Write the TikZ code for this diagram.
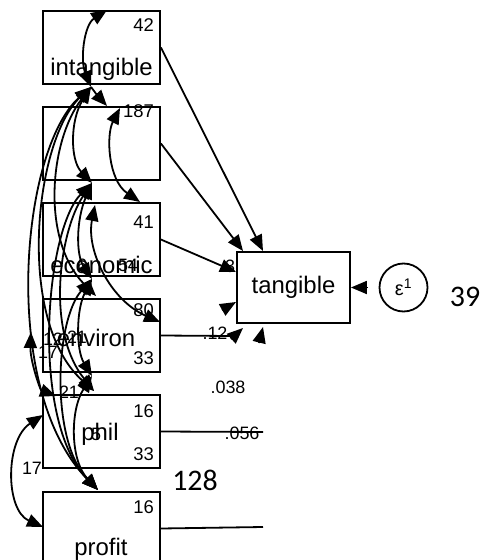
\documentclass[tikz,border=0pt]{standalone}
\usepackage{fontspec}
\setmainfont{Liberation Sans}
\newfontfamily\numfont{Carlito}
\usetikzlibrary{arrows.meta}

\begin{document}
\begin{tikzpicture}[x=1bp,y=-1bp,
    var/.style={draw,line width=1.8bp,minimum width=117bp,minimum height=73bp,inner sep=0pt},
    lab/.style={anchor=base,inner sep=0pt,font=\fontsize{24}{28}\selectfont},
    num/.style={anchor=base east,inner sep=0pt,font=\fontsize{18.5}{22}\selectfont},
    est/.style={anchor=base,inner sep=0pt,font=\fontsize{18}{22}\selectfont},
    big/.style={anchor=base,inner sep=0pt,font=\numfont\fontsize{30}{34}\selectfont},
    reg/.style={line width=1.8bp,-{Triangle[length=16bp,width=13bp]}},
    cov/.style={line width=1.8bp,{Triangle[length=16bp,width=13bp]}-{Triangle[length=16bp,width=13bp]}}]
  \clip (0,0) rectangle (486,560);

  % observed variables
  \node[var] (intan) at (101.5,47.5) {};
  \node[var] (blank) at (101.5,143.5) {};
  \node[var] (econ) at (101.5,239.5) {};
  \node[var] (envir) at (101.5,335.5) {};
  \node[var] (phil) at (101.5,431.5) {};
  \node[var] (profit) at (101.5,528.5) {};
  \node[var,minimum width=113bp,minimum height=71bp,font=\fontsize{24}{28}\selectfont]
    (tang) at (293.5,287.5) {tangible};
  \node[draw,circle,line width=1.8bp,minimum size=48bp,inner sep=0pt,
    font=\fontsize{20}{24}\selectfont] (eps) at (403.5,287.5) {ε\textsuperscript{1}};

  \node[lab] (intanlab) at (101.5,76) {intangible};
  \node[lab] (econlab) at (101.5,273) {economic};
  \node[lab] (envirlab) at (96,346) {environ};
  \node[lab] (phillab) at (100,440) {phil};
  \node[lab] (profitlab) at (101,555) {profit};

  \node[num] (intanm) at (154,32) {42};
  \node[num] (blankm) at (154,118) {187};
  \node[num] (econm) at (154,228) {41};
  \node[num] (envirm) at (154,316) {80};
  \node[num] (envirv) at (154,364) {33};
  \node[num] (philm) at (154,417) {16};
  \node[num] (philv) at (154,460) {33};
  \node[num] (profitm) at (154,513) {16};

  % covariance estimates, where they landed
  \node[est] (c1) at (82,271) {6};
  \node[est] (c2) at (128,271) {54};
  \node[est] (c3) at (53,345) {12};
  \node[est] (c4) at (77,343) {21};
  \node[est] (c5) at (48,358) {17};
  \node[est] (c6) at (69,398) {21};
  \node[est] (c7) at (96,440) {5};
  \node[est] (c8) at (32,474) {17};

  % path coefficients
  \node[est] (b1) at (230,272) {3};
  \node[est] (b2) at (215,339) {.12};
  \node[est] (b3) at (228,393) {.038};
  \node[est] (b4) at (242,439) {.056};
  \node[big] (cons) at (195,490) {128};
  \node[big] (var1) at (465,306) {39};

  % ends of the paths
  \coordinate (t1) at (263,251);
  \coordinate (t2) at (243,251);
  \coordinate (t3) at (236,272);
  \coordinate (e1) at (231,336);
  \coordinate (p1) at (263,432);
  \coordinate (f1) at (263,527);
  \coordinate (s1) at (222,310);
  \coordinate (s1e) at (236,302);
  \coordinate (s2) at (231,339);
  \coordinate (s2e) at (243,328);
  \coordinate (s3) at (259,343);
  \coordinate (s3e) at (263,327);

  \draw[reg] (intan.east) -- (t1);
  \draw[reg] (blank.east) -- (t2);
  \draw[reg] (econ.east) -- (t3);
  \draw[line width=1.8bp] (envir.east) -- (e1);
  \draw[line width=1.8bp] (phil.east) -- (p1);
  \draw[line width=1.8bp] (profit.east) -- (f1);
  \draw[reg] (s1) -- (s1e);
  \draw[reg] (s2) -- (s2e);
  \draw[reg] (s3) -- (s3e);
  \draw[reg,shorten <=11bp] (eps) -- (tang);

  % ends of the covariances
  \coordinate (ia) at (107,10);
  \coordinate (ib) at (91,87);
  \coordinate (bt) at (107,106);
  \coordinate (bc) at (120,108);
  \coordinate (bb) at (92,183);
  \coordinate (ec) at (140,202);
  \coordinate (et) at (95,205);
  \coordinate (eb) at (92,279);
  \coordinate (vt) at (96,296);
  \coordinate (vr) at (160,322);
  \coordinate (vb) at (92,376);
  \coordinate (vl) at (31,332);
  \coordinate (pt) at (94,391);
  \coordinate (pl0) at (56,396);
  \coordinate (pl) at (43,415);
  \coordinate (ft) at (98,490);
  \coordinate (fl) at (43,527);

  \draw[cov] (ib) .. controls (80,60) and (84,25) .. (ia);
  \draw[reg] (ib) .. controls (97,95) .. (bt);
  \draw[cov] (ib) .. controls (70,120) and (70,160) .. (bb);
  \draw[cov] (bc) .. controls (106,135) and (108,180) .. (ec);
  \draw[cov] (ib) .. controls (20,150) and (0,390) .. (ft);
  \draw[cov] (ib) .. controls (35,140) and (15,320) .. (pt);
  \draw[cov] (ib) .. controls (50,140) and (40,240) .. (vt);
  \draw[cov] (bb) .. controls (45,230) and (30,420) .. (ft);
  \draw[cov] (bb) .. controls (60,230) and (45,330) .. (pt);
  \draw[cov] (bb) .. controls (76,220) and (76,255) .. (eb);
  \draw[cov] (et) .. controls (86,250) and (110,300) .. (vr);
  \draw[cov] (eb) .. controls (55,320) and (50,440) .. (ft);
  \draw[cov] (eb) .. controls (76,310) and (76,350) .. (vb);
  \draw[cov] (vb) .. controls (70,410) and (70,460) .. (ft);
  \draw[cov] (vl) .. controls (30,360) and (40,390) .. (pl0);
  \draw[cov] (pl) .. controls (5,440) and (5,510) .. (fl);
\end{tikzpicture}
\end{document}
